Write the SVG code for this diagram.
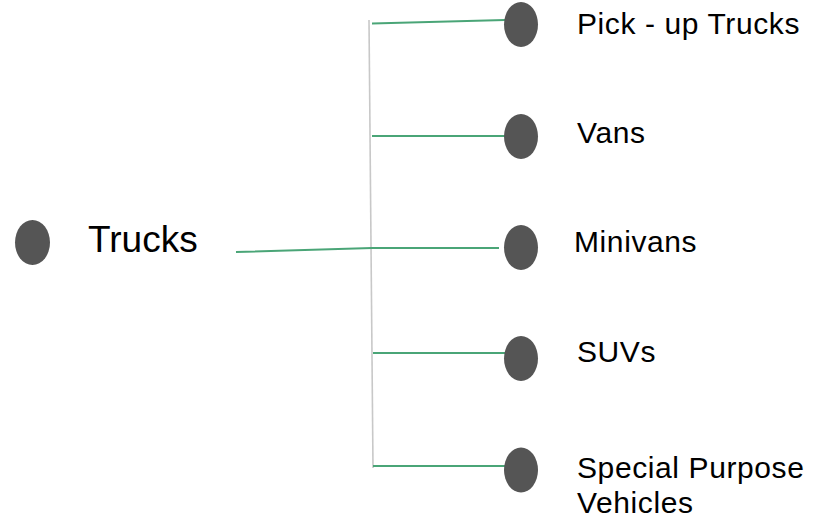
<svg xmlns="http://www.w3.org/2000/svg" width="824" height="523" viewBox="0 0 824 523">
  <style>
    .dot { fill: #555555; }
    .trunk { stroke: #c8c8c8; stroke-width: 1.6; fill: none; }
    .branch { stroke: #4aa577; stroke-width: 2; fill: none; }
    .label { font-family: "Liberation Sans", Arial, sans-serif; font-size: 30px; letter-spacing: 0.6px; fill: #000000; }
    .root { font-size: 37px; letter-spacing: 0; }
  </style>
  <rect width="824" height="523" fill="#ffffff"/>

  <g id="connectors">
    <line class="trunk" x1="369" y1="20" x2="373" y2="468"/>
    <polyline class="branch" points="236,252 372,248 499,248"/>
    <line class="branch" x1="372" y1="23.5" x2="505" y2="20"/>
    <line class="branch" x1="372" y1="136" x2="505" y2="136"/>
    <line class="branch" x1="373" y1="353" x2="505" y2="353"/>
    <line class="branch" x1="373" y1="466" x2="505" y2="466"/>
  </g>

  <g id="trucks">
    <ellipse class="dot" cx="32.5" cy="242.5" rx="17.5" ry="22.5"/>
    <text class="label root" x="88" y="252">Trucks</text>
  </g>
  <g id="pickup">
    <ellipse class="dot" cx="521" cy="24.5" rx="17" ry="22.5"/>
    <text class="label" x="577" y="34">Pick - up Trucks</text>
  </g>
  <g id="vans">
    <ellipse class="dot" cx="521" cy="136.5" rx="17" ry="22.5"/>
    <text class="label" x="577" y="143">Vans</text>
  </g>
  <g id="minivans">
    <ellipse class="dot" cx="521" cy="247.5" rx="17" ry="22.5"/>
    <text class="label" x="574" y="252">Minivans</text>
  </g>
  <g id="suvs">
    <ellipse class="dot" cx="521" cy="358.5" rx="17" ry="22.5"/>
    <text class="label" x="577" y="362">SUVs</text>
  </g>
  <g id="special">
    <ellipse class="dot" cx="521" cy="470" rx="17" ry="22.5"/>
    <text class="label" x="577" y="478">Special Purpose</text>
    <text class="label" x="577" y="513">Vehicles</text>
  </g>
</svg>
